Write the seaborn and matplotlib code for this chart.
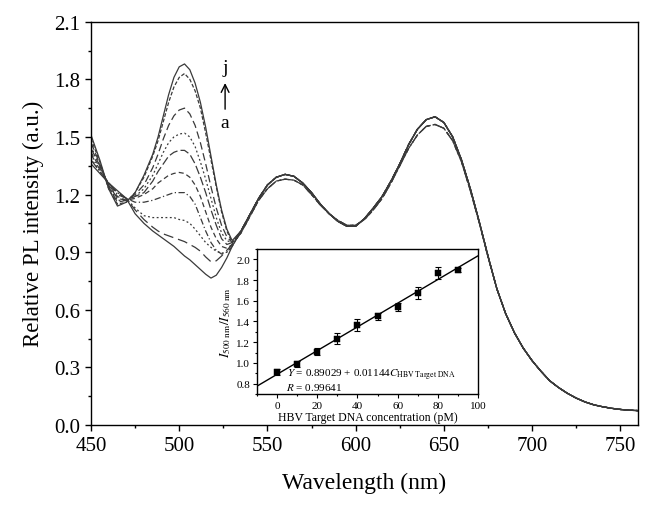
"""PL spectra of the HBV probe with the calibration inset"""
import matplotlib
matplotlib.use("Agg")
import matplotlib.pyplot as plt
from matplotlib.ticker import MultipleLocator, FormatStrFormatter
import seaborn as sns

# wavelengths where the spectra differ (450-530) and where they overlap (535-760)
wl_left = [450, 455, 460, 465, 470, 475, 480, 485, 488, 491, 494, 497, 500,
           503, 506, 509, 512, 515, 518, 521, 524, 527, 530]
wl_mid = [535, 540, 545, 550, 555, 560, 565, 570, 575, 580, 585, 590, 595, 600, 605,
          610, 615, 620, 625, 630, 635, 640, 645, 650, 655, 660, 665, 670, 675, 680]
wl_end = [685, 690, 695, 700, 705, 710, 715, 720, 725, 730, 735, 740, 745, 750, 755, 760]

left_a = [1.36, 1.31, 1.26, 1.22, 1.18, 1.10, 1.05, 1.01, 0.99, 0.97, 0.95, 0.93, 0.905,
          0.88, 0.86, 0.835, 0.81, 0.785, 0.765, 0.78, 0.82, 0.87, 0.93]
left_b = [1.38, 1.32, 1.26, 1.21, 1.18, 1.12, 1.07, 1.03, 1.01, 0.995, 0.985, 0.975, 0.965,
          0.955, 0.94, 0.925, 0.905, 0.875, 0.85, 0.855, 0.88, 0.91, 0.94]
left_c = [1.39, 1.32, 1.26, 1.21, 1.18, 1.13, 1.09, 1.08, 1.08, 1.08, 1.08, 1.08, 1.07,
          1.065, 1.05, 1.02, 0.985, 0.95, 0.925, 0.905, 0.895, 0.90, 0.93]
left_d = [1.41, 1.33, 1.26, 1.20, 1.18, 1.16, 1.16, 1.17, 1.18, 1.19, 1.20, 1.21, 1.21,
          1.21, 1.19, 1.15, 1.08, 1.01, 0.95, 0.91, 0.89, 0.90, 0.93]
left_e = [1.42, 1.34, 1.25, 1.19, 1.17, 1.18, 1.20, 1.23, 1.26, 1.28, 1.30, 1.31, 1.315,
          1.31, 1.29, 1.25, 1.19, 1.11, 1.03, 0.97, 0.93, 0.92, 0.94]
left_f = [1.44, 1.35, 1.25, 1.18, 1.17, 1.19, 1.21, 1.27, 1.32, 1.36, 1.40, 1.42, 1.43,
          1.43, 1.41, 1.36, 1.29, 1.21, 1.12, 1.04, 0.97, 0.94, 0.95]
left_g = [1.45, 1.35, 1.24, 1.17, 1.17, 1.19, 1.23, 1.30, 1.36, 1.42, 1.47, 1.50, 1.515,
          1.52, 1.50, 1.45, 1.37, 1.28, 1.18, 1.08, 1.00, 0.96, 0.95]
left_h = [1.47, 1.36, 1.24, 1.16, 1.17, 1.20, 1.25, 1.34, 1.41, 1.49, 1.56, 1.61, 1.64,
          1.65, 1.62, 1.56, 1.47, 1.36, 1.24, 1.13, 1.04, 0.98, 0.95]
left_i = [1.49, 1.37, 1.23, 1.15, 1.16, 1.21, 1.29, 1.40, 1.48, 1.58, 1.68, 1.76, 1.81,
          1.83, 1.80, 1.74, 1.65, 1.52, 1.38, 1.24, 1.11, 1.01, 0.95]
left_j = [1.51, 1.38, 1.23, 1.14, 1.16, 1.21, 1.30, 1.41, 1.50, 1.61, 1.72, 1.81, 1.865,
          1.88, 1.85, 1.78, 1.68, 1.55, 1.40, 1.25, 1.12, 1.02, 0.96]

mid_hi = [1.01, 1.095, 1.18, 1.25, 1.29, 1.305, 1.295, 1.26, 1.21, 1.15, 1.10, 1.06, 1.035, 1.035, 1.075,
          1.13, 1.19, 1.27, 1.36, 1.46, 1.54, 1.59, 1.605, 1.575, 1.50, 1.38, 1.23, 1.06, 0.88, 0.71]
mid_lo = [1.00, 1.085, 1.17, 1.23, 1.27, 1.28, 1.275, 1.25, 1.20, 1.145, 1.10, 1.065, 1.04, 1.04, 1.07,
          1.12, 1.18, 1.26, 1.35, 1.44, 1.51, 1.555, 1.565, 1.545, 1.48, 1.37, 1.22, 1.055, 0.875, 0.71]
tail = [0.58, 0.48, 0.40, 0.335, 0.28, 0.23, 0.195, 0.165, 0.14, 0.12, 0.105, 0.095, 0.087, 0.081, 0.077, 0.075]

labels = ["a", "b", "c", "d", "e", "f", "g", "h", "i", "j"]
lefts = [left_a, left_b, left_c, left_d, left_e, left_f, left_g, left_h, left_i, left_j]
mids = [mid_hi, mid_lo, mid_hi, mid_hi, mid_lo, mid_hi, mid_hi, mid_hi, mid_lo, mid_hi]
styles = ["-", (0, (8, 4)), (0, (1.5, 2)), (0, (5, 2, 1, 2)), (0, (4, 2.5)),
          (0, (7, 2.5)), (0, (1.5, 2)), (0, (6, 3)), (0, (3, 1.5)), "-"]

# inset: calibration
conc = [0, 10, 20, 30, 40, 50, 60, 70, 80, 90]
ratio = [0.91, 0.99, 1.11, 1.235, 1.365, 1.45, 1.54, 1.675, 1.87, 1.90]
ratio_err = [0.03, 0.03, 0.03, 0.05, 0.06, 0.035, 0.035, 0.055, 0.055, 0.02]
intercept = 0.89029
slope = 0.01144
fit_x = [-10, 100]

sns.set_theme(style="ticks")
plt.rcParams["font.family"] = ["Liberation Serif", "DejaVu Serif"]
plt.rcParams["mathtext.fontset"] = "stix"

fig = plt.figure(figsize=(6.5, 5.1), dpi=100)
ax = fig.add_axes([0.14, 0.1647, 0.8415, 0.7908])

line_color = "#3a3a3a"
for lab, left, mid, ls in zip(labels, lefts, mids, styles):
    x = wl_left + wl_mid + wl_end
    y = left + mid + tail
    sns.lineplot(x=x, y=y, ax=ax, color=line_color, lw=0.9, linestyle=ls, sort=False)

ax.set_xlim(450, 760)
ax.set_ylim(0, 2.1)
ax.xaxis.set_major_locator(MultipleLocator(50))
ax.xaxis.set_minor_locator(MultipleLocator(25))
ax.yaxis.set_major_locator(MultipleLocator(0.3))
ax.yaxis.set_minor_locator(MultipleLocator(0.15))
ax.yaxis.set_major_formatter(FormatStrFormatter("%.1f"))
ax.tick_params(which="major", direction="out", length=4.5, width=1, labelsize=15, color="black", labelcolor="black")
ax.tick_params(which="minor", direction="out", length=2.5, width=1, color="black")
for sp in ax.spines.values():
    sp.set_linewidth(1.0)
    sp.set_color("black")
    sp.set_visible(True)
ax.set_xlabel("Wavelength (nm)", fontsize=17, color="black", labelpad=12)
ax.set_ylabel("Relative PL intensity (a.u.)", fontsize=16.5, color="black", labelpad=7)

# a -> j arrow
ax.text(526, 1.86, "j", fontsize=14, ha="center", va="center", color="black")
ax.text(526, 1.575, "a", fontsize=14, ha="center", va="center", color="black")
ax.annotate("", xy=(526, 1.795), xytext=(526, 1.63),
            arrowprops=dict(arrowstyle="->", color="black", lw=1.0, mutation_scale=14))

# inset
ins = fig.add_axes([0.3954, 0.2255, 0.34, 0.2843])
ins.errorbar(conc, ratio, yerr=ratio_err, fmt="none", ecolor="black", elinewidth=0.8, capsize=2, capthick=0.8)
sns.scatterplot(x=conc, y=ratio, ax=ins, marker="s", s=18, color="black", edgecolor="black", zorder=3)
fit_y = [intercept + slope * v for v in fit_x]
sns.lineplot(x=fit_x, y=fit_y, ax=ins, color="black", lw=1.0)
ins.set_xlim(-10, 100)
ins.set_ylim(0.7, 2.1)
ins.xaxis.set_major_locator(MultipleLocator(20))
ins.xaxis.set_minor_locator(MultipleLocator(10))
ins.yaxis.set_major_locator(MultipleLocator(0.2))
ins.yaxis.set_minor_locator(MultipleLocator(0.1))
ins.yaxis.set_major_formatter(FormatStrFormatter("%.1f"))
ins.tick_params(which="major", direction="out", length=3, width=0.8, labelsize=8, pad=2, color="black", labelcolor="black")
ins.tick_params(which="minor", direction="out", length=1.5, width=0.8, color="black")
for sp in ins.spines.values():
    sp.set_linewidth(1.0)
    sp.set_color("black")
    sp.set_visible(True)
ins.set_xlabel("HBV Target DNA concentration (pM)", fontsize=8.5, color="black", labelpad=1)
ins.set_ylabel(r"$I_{\mathrm{500\ nm}}/I_{\mathrm{560\ nm}}$", fontsize=9.5, color="black", labelpad=2)
ins.text(5.0, 0.89, r"$Y$ = 0.89029 + 0.01144$C_{\mathrm{HBV\ Target\ DNA}}$", fontsize=8, color="black", va="center")
ins.text(4.5, 0.77, r"$R$ = 0.99641", fontsize=8, color="black", va="center")

fig.savefig("out.png", dpi=100, facecolor="white")
